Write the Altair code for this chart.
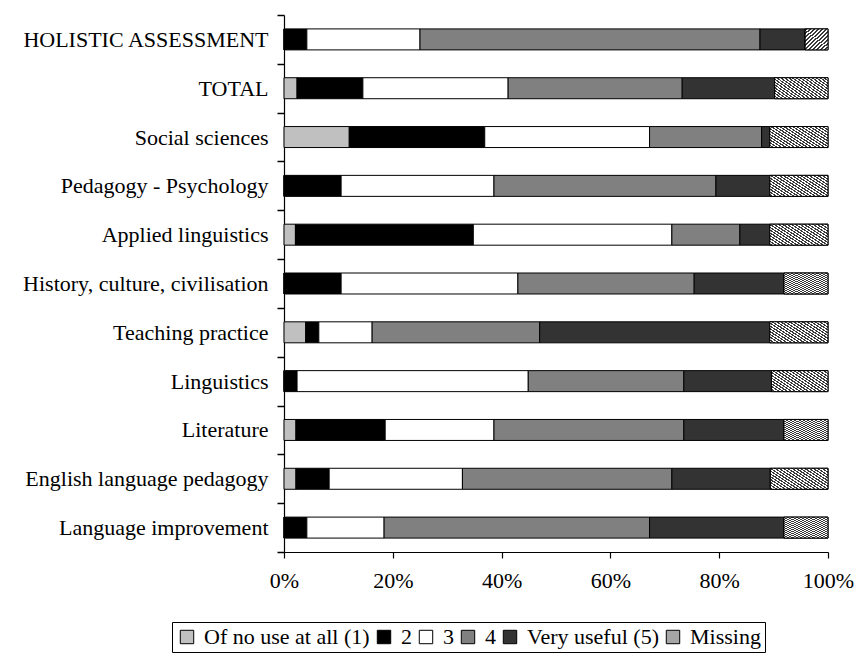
import altair as alt
import pandas as pd

# Courses, top to bottom
courses = [
    "HOLISTIC ASSESSMENT",
    "TOTAL",
    "Social sciences",
    "Pedagogy - Psychology",
    "Applied linguistics",
    "History, culture, civilisation",
    "Teaching practice",
    "Linguistics",
    "Literature",
    "English language pedagogy",
    "Language improvement",
]

ratings = ["Of no use at all (1)", "2", "3", "4", "Very useful (5)", "Missing"]

# Share of responses (%) per rating, one list per rating, in course order
r1 = [0.0, 2.4, 12.0, 0.0, 2.1, 0.0, 4.0, 0.0, 2.2, 2.2, 0.0]
r2 = [4.2, 12.1, 24.9, 10.5, 32.7, 10.5, 2.4, 2.4, 16.4, 6.1, 4.2]
r3 = [20.8, 26.7, 30.3, 28.1, 36.5, 32.5, 9.8, 42.5, 20.0, 24.5, 14.2]
r4 = [62.5, 32.0, 20.6, 40.8, 12.5, 32.4, 30.8, 28.6, 34.9, 38.5, 48.8]
r5 = [8.3, 17.0, 1.5, 9.9, 5.5, 16.5, 42.3, 16.1, 18.4, 18.1, 24.7]
missing = [4.2, 9.8, 10.7, 10.7, 10.7, 8.1, 10.7, 10.4, 8.1, 10.6, 8.1]

series = [r1, r2, r3, r4, r5, missing]
rows = []
for k, (rating, vals) in enumerate(zip(ratings, series)):
    for course, v in zip(courses, vals):
        rows.append({"course": course, "rating": rating, "order": k, "value": v})
df = pd.DataFrame(rows)

FONT = "Liberation Serif"
FS = 22
BAR_H = {"band": 0.43}
palette = ["#c0c0c0", "#000000", "#ffffff", "#808080", "#333333", "#a6a6a6"]


def hatch_gradient(n):
    """Diagonal stripe fill with n dark/light stripe pairs across the mark."""
    stops = []
    for i in range(n):
        a, b, c = i / n, (i + 0.5) / n, (i + 1) / n
        stops += [
            alt.GradientStop(offset=a, color="#3a3a3a"),
            alt.GradientStop(offset=b, color="#3a3a3a"),
            alt.GradientStop(offset=b, color="#ffffff"),
            alt.GradientStop(offset=c, color="#ffffff"),
        ]
    return alt.LinearGradient(gradient="linear", stops=stops, x1=0, y1=0, x2=1, y2=1)


y_enc = alt.Y(
    "course:N",
    sort=courses,
    title=None,
    scale=alt.Scale(paddingInner=0, paddingOuter=0),
    axis=alt.Axis(
        ticks=True,
        tickBand="extent",
        tickRound=True,
        tickSize=7,
        tickWidth=1.5,
        tickColor="black",
        domainColor="black",
        domainWidth=1.2,
        labelFont=FONT,
        labelFontSize=FS,
        labelColor="black",
        labelPadding=9,
        labelLimit=300,
    ),
)

x_enc = alt.X(
    "x0:Q",
    title=None,
    scale=alt.Scale(domain=[0, 100], nice=False),
    axis=alt.Axis(
        values=[0, 20, 40, 60, 80, 100],
        labelExpr="datum.value + '%'",
        labelFlush=False,
        labelOverlap=False,
        tickSize=6,
        tickWidth=1.2,
        tickColor="black",
        domainColor="black",
        domainWidth=1.2,
        grid=False,
        labelFont=FONT,
        labelFontSize=FS,
        labelColor="black",
        labelPadding=12,
    ),
)

base = alt.Chart(df).transform_stack(
    stack="value",
    groupby=["course"],
    as_=["x0", "x1"],
    sort=[alt.SortField("order", order="ascending")],
)

bars = base.mark_bar(stroke="black", strokeWidth=1, height=BAR_H).encode(
    y=y_enc,
    x=x_enc,
    x2="x1:Q",
    color=alt.Color(
        "rating:N",
        sort=ratings,
        scale=alt.Scale(domain=ratings, range=palette),
        legend=alt.Legend(
            title=None,
            orient="none",
            direction="horizontal",
            legendX=-112,
            legendY=607,
            symbolType="square",
            symbolSize=180,
            symbolStrokeColor="black",
            symbolStrokeWidth=1,
            symbolOpacity=1,
            labelFont=FONT,
            labelFontSize=FS,
            labelColor="black",
            labelLimit=0,
            columnPadding=3,
            labelOffset=6,
            strokeColor="black",
            padding=4,
        ),
    ),
    order=alt.Order("order:Q"),
)

# hatched "Missing" segments; stripe count grows with segment width
hatch_layers = []
for lo, hi, n in [(0, 6, 11), (6, 9, 21), (9, 100, 27)]:
    hatch_layers.append(
        base.transform_filter(
            (alt.datum.rating == "Missing") & (alt.datum.value >= lo) & (alt.datum.value < hi)
        )
        .mark_bar(color=hatch_gradient(n), stroke="black", strokeWidth=1, height=BAR_H)
        .encode(y=alt.Y("course:N", sort=courses), x=alt.X("x0:Q"), x2="x1:Q")
    )

chart = (
    alt.layer(bars, *hatch_layers)
    .properties(
        width=544,
        height=537,
        autosize=alt.AutoSizeParams(type="none"),
        padding={"left": 284, "top": 15, "right": 29, "bottom": 107},
        background="white",
    )
    .configure_view(stroke=None)
)

chart.save("out.html", embed_options={"renderer": "svg", "actions": False})
